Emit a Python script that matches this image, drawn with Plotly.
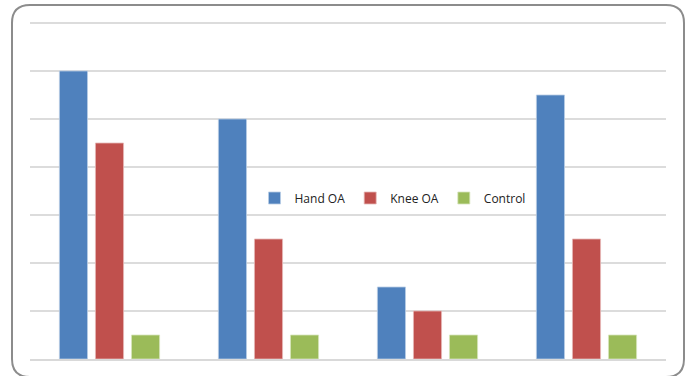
import plotly.graph_objects as go

# Four unlabelled groups, three series
groups = ["G1", "G2", "G3", "G4"]
hand_oa = [6.0, 5.0, 1.5, 5.5]
knee_oa = [4.5, 2.5, 1.0, 2.5]
control = [0.5, 0.5, 0.5, 0.5]

W, H = 694, 376
Y_MAX = 7.25
ML, MR, MT, MB = 30, 28, 11, 17
PW, PH = W - ML - MR, H - MT - MB

fig = go.Figure()
series = [
    ("Hand OA", hand_oa, "#4F81BD", "#B9CDE5"),
    ("Knee OA", knee_oa, "#C0504D", "#E6B9B8"),
    ("Control", control, "#9BBB59", "#D7E4BD"),
]
for name, vals, col, edge in series:
    fig.add_trace(go.Bar(
        x=groups, y=vals, name=name,
        marker=dict(color=col, line=dict(color=edge, width=0.8)),
    ))

# Rounded frame around the chart, in paper units
def px_x(v):
    return (v - ML) / PW

def px_y(v):
    return (H - MB - v) / PH

x0, x1, y0, y1, r = 12, 684, 5, 377, 18
path = (
    f"M {px_x(x0 + r)} {px_y(y0)} L {px_x(x1 - r)} {px_y(y0)} "
    f"Q {px_x(x1)} {px_y(y0)} {px_x(x1)} {px_y(y0 + r)} "
    f"L {px_x(x1)} {px_y(y1 - r)} "
    f"Q {px_x(x1)} {px_y(y1)} {px_x(x1 - r)} {px_y(y1)} "
    f"L {px_x(x0 + r)} {px_y(y1)} "
    f"Q {px_x(x0)} {px_y(y1)} {px_x(x0)} {px_y(y1 - r)} "
    f"L {px_x(x0)} {px_y(y0 + r)} "
    f"Q {px_x(x0)} {px_y(y0)} {px_x(x0 + r)} {px_y(y0)} Z"
)
fig.add_shape(type="path", path=path, xref="paper", yref="paper",
              line=dict(color="#8C8C8C", width=2), layer="above")

# Mask the gridline area above the top tick so the grid stops at 7
fig.add_shape(type="rect", xref="paper", yref="y", x0=0, x1=1, y0=7.03, y1=Y_MAX,
              fillcolor="white", line=dict(width=0), layer="below")

fig.update_layout(
    width=W, height=H,
    margin=dict(l=ML, r=MR, t=MT, b=MB),
    paper_bgcolor="white", plot_bgcolor="white",
    barmode="group", bargap=0.32, bargroupgap=0.22,
    font=dict(family="Open Sans, Liberation Sans, sans-serif", size=12, color="#222"),
    showlegend=True,
    legend=dict(orientation="h", x=0.57, y=(359 - 198) / PH, xanchor="center",
                yanchor="middle", bgcolor="rgba(0,0,0,0)", font=dict(size=12),
                itemwidth=30, traceorder="normal"),
    xaxis=dict(showticklabels=False, ticks="", showgrid=False, zeroline=False,
               showline=True, linecolor="#D9D9D9", linewidth=2),
    yaxis=dict(range=[0, Y_MAX], dtick=1, showticklabels=False, ticks="",
               showgrid=True, gridcolor="#DCDCDC", gridwidth=1.5,
               zeroline=False, showline=False),
)

fig.write_html("out.html")
